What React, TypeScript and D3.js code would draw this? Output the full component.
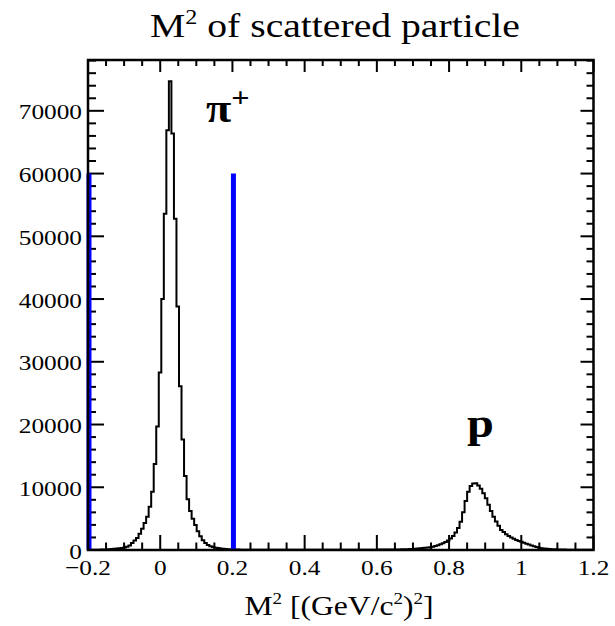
import React from 'react';
import * as d3 from 'd3';

// ---- data ----
const binLow = -0.2;
const binWidth = 0.007;
const counts: number[] = [
  // bins 0-59 (pion peak)
  20, 25, 30, 40, 50, 60, 75, 90, 110, 140,
  180, 220, 270, 330, 400, 520, 700, 1100, 1500, 1900,
  2600, 3400, 4300, 5300, 6900, 9300, 13700, 19700, 28300, 40000,
  53600, 66900, 74700, 66400, 52800, 38800, 26100, 17600, 11800, 8100,
  6200, 5000, 4000, 3000, 2200, 1550, 1100, 800, 600, 460,
  370, 300, 240, 200, 160, 130, 105, 90, 75, 65,
  // bins 60-119 (between peaks)
  58, 52, 48, 45, 42, 40, 38, 36, 35, 34,
  33, 32, 32, 31, 31, 30, 30, 29, 30, 29,
  29, 28, 29, 28, 28, 29, 28, 28, 29, 29,
  30, 30, 31, 31, 32, 32, 33, 34, 35, 36,
  37, 38, 39, 40, 41, 42, 44, 45, 47, 49,
  50, 52, 54, 56, 58, 60, 61, 62, 63, 64,
  // bins 120-199 (proton peak)
  65, 70, 80, 90, 100, 115, 130, 150, 175, 200,
  230, 265, 300, 340, 390, 450, 530, 630, 750, 900,
  1070, 1270, 1520, 1820, 2250, 2800, 3500, 4500, 6000, 7800,
  9300, 10200, 10600, 10650, 10300, 9750, 9050, 8250, 7200, 6200,
  5300, 4550, 3850, 3200, 2850, 2500, 2250, 2000, 1780, 1580,
  1420, 1300, 1140, 1000, 860, 720, 580, 460, 360, 280,
  220, 180, 150, 125, 105, 90, 78, 68, 60, 54,
  48, 44, 40, 37, 34, 32, 30, 28, 26, 25,
];
const xMajorTicks = [-0.2, 0, 0.2, 0.4, 0.6, 0.8, 1.0, 1.2];
const xTickLabels = ['\u22120.2', '0', '0.2', '0.4', '0.6', '0.8', '1', '1.2'];
const yMajorTicks = [0, 10000, 20000, 30000, 40000, 50000, 60000, 70000];
const yTickLabels = ['0', '10000', '20000', '30000', '40000', '50000', '60000', '70000'];
const cutPositions = [-0.2, 0.2];
const cutHeight = 60000;

// ---- layout ----
const W = 615, H = 626;
const L = 88, R = 593.5, T = 60, B = 550;
const SX = 1.15;
const FONT = 'Liberation Serif, Times New Roman, serif';

export default function App() {
  const x = d3.scaleLinear().domain([-0.2, 1.2]).range([L, R]);
  const y = d3.scaleLinear().domain([0, 78100]).range([B, T]);

  const pts: [number, number][] = counts.map((c, i) => [x(binLow + i * binWidth), y(c)]);
  pts.push([x(binLow + counts.length * binWidth), y(counts[counts.length - 1])]);
  const histPath = d3.line().curve(d3.curveStepAfter)(pts) || '';

  const xMinor = d3.range(0, 29).map((i) => -0.2 + i * 0.05);
  const yMinor = d3.range(0, 40).map((i) => i * 2000).filter((v) => v <= 78100);

  const sText = (
    px: number, py: number, content: React.ReactNode, size: number,
    anchor: 'start' | 'middle' | 'end', weight: string = 'normal', key?: string
  ) => (
    <text key={key} transform={`translate(${px},${py}) scale(${SX},1)`} textAnchor={anchor}
      fontSize={size} fontFamily={FONT} fontWeight={weight} fill="#000">
      {content}
    </text>
  );

  return (
    <svg width={W} height={H} style={{ position: 'absolute', left: 0, top: 0, background: '#fff' }}>
      <rect x={0} y={0} width={W} height={H} fill="#fff" />
      <defs>
        <clipPath id="frame"><rect x={L} y={T} width={R - L} height={B - T} /></clipPath>
      </defs>

      {/* histogram */}
      <path d={histPath} fill="none" stroke="#000" strokeWidth={2} clipPath="url(#frame)" />

      {/* ticks */}
      <g stroke="#000" strokeWidth={2}>
        {xMinor.map((v, i) => {
          const major = xMajorTicks.some((m) => Math.abs(m - v) < 1e-6);
          const xx = x(v);
          return (
            <g key={'xt' + i}>
              <line x1={xx} x2={xx} y1={B} y2={B - (major ? 15 : 7.5)} />
              <line x1={xx} x2={xx} y1={T} y2={T + (major ? 12 : 6)} />
            </g>
          );
        })}
        {yMinor.map((v, i) => {
          const major = v % 10000 === 0;
          const yy = y(v);
          return (
            <g key={'yt' + i}>
              <line x1={L} x2={L + (major ? 16 : 8)} y1={yy} y2={yy} />
              <line x1={R} x2={R - (major ? 13 : 7)} y1={yy} y2={yy} />
            </g>
          );
        })}
      </g>

      {/* cut lines */}
      {cutPositions.map((c, i) => (
        <line key={'cut' + i} x1={x(c) + 1} x2={x(c) + 1} y1={y(0)} y2={y(cutHeight)}
          stroke="#0000ff" strokeWidth={5} />
      ))}

      {/* frame */}
      <rect x={L} y={T} width={R - L} height={B - T} fill="none" stroke="#000" strokeWidth={2.5} />

      {/* tick labels */}
      {yMajorTicks.map((v, i) => sText(82, y(v) + 8.5, yTickLabels[i], 22, 'end', 'normal', 'yl' + i))}
      {xMajorTicks.map((v, i) => sText(x(v), 575, xTickLabels[i], 22, 'middle', 'normal', 'xl' + i))}

      {/* title */}
      {sText(150, 37, (
        <>
          <tspan>M</tspan>
          <tspan fontSize={21} dy={-13.5}>2</tspan>
          <tspan dy={13.5}> of scattered particle</tspan>
        </>
      ), 34.5, 'start', 'normal', 'title')}

      {/* axis title */}
      {sText(339, 615, (
        <>
          <tspan>M</tspan>
          <tspan fontSize={16.5} dy={-11}>2</tspan>
          <tspan dy={11}> [(GeV/c</tspan>
          <tspan fontSize={16.5} dy={-11}>2</tspan>
          <tspan dy={11}>)</tspan>
          <tspan fontSize={16.5} dy={-11}>2</tspan>
          <tspan dy={11}>]</tspan>
        </>
      ), 27.5, 'middle', 'normal', 'axt')}

      {/* particle labels */}
      {sText(206, 122, (
        <>
          <tspan>π</tspan>
          <tspan fontSize={28} dy={-15}>+</tspan>
        </>
      ), 40, 'start', 'bold', 'pi')}
      {sText(467, 437, 'p', 42, 'start', 'bold', 'p')}
    </svg>
  );
}
